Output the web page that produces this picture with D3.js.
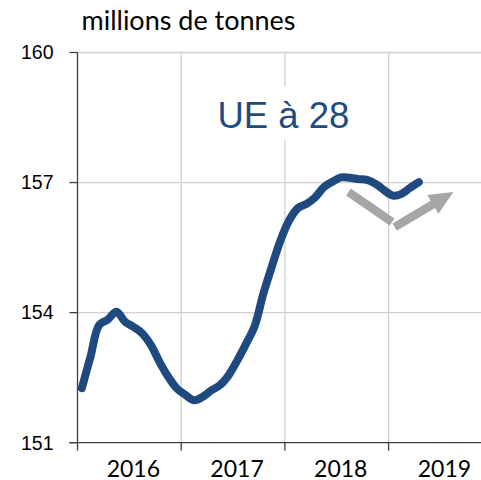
<!DOCTYPE html>
<html>
<head>
<meta charset="utf-8">
<script src="https://cdn.jsdelivr.net/npm/d3@7"></script>
<style>
  body { margin: 0; background: #fff; }
  svg { display: block; }
</style>
</head>
<body>
<svg width="481" height="480"></svg>
<script>
// data: monthly EU-28 production, Jan 2016 -> Apr 2019
let years = ["2016", "2017", "2018", "2019"];
let values = [
    152.26, 152.98, 153.71, 153.84, 154.02, 153.79, 153.67, 153.52, 153.25, 152.86, 152.52, 152.25,
    152.10, 151.98, 152.06, 152.21, 152.33, 152.56, 152.90, 153.28, 153.69, 154.43, 155.07, 155.67,
    156.13, 156.41, 156.51, 156.66, 156.89, 157.02, 157.12, 157.11, 157.08, 157.06, 156.97, 156.82,
    156.70, 156.74, 156.88, 157.01
];
let yTicks = [151, 154, 157, 160];
// trend arrow, as [month index, value]
let trendDown = [[30.85, 156.78], [35.9, 156.09]];
let trendUp = [[36.2, 155.97], [43.0, 156.78]];

let svg = d3.select("svg");

let plotLeft = 77.5, plotRight = 492.3, plotTop = 52.5, plotBottom = 442.7;

let months = d3.range(48);
let x = d3.scaleBand().domain(months).range([plotLeft, plotRight]);
let y = d3.scaleLinear().domain([151, 160]).range([plotBottom, plotTop]);
let xm = function (m) { return x(0) + (m + 0.5) * x.step(); };

// grid
svg.append("g")
    .selectAll("line")
    .data(yTicks.slice(1))
    .enter().append("line")
    .attr("x1", plotLeft).attr("x2", 481)
    .attr("y1", d => y(d)).attr("y2", d => y(d))
    .attr("stroke", "#d0d0d0").attr("stroke-width", 1.3);

svg.append("g")
    .selectAll("line")
    .data([12, 24, 36])
    .enter().append("line")
    .attr("x1", d => x(d)).attr("x2", d => x(d))
    .attr("y1", plotTop).attr("y2", plotBottom)
    .attr("stroke", "#d0d0d0").attr("stroke-width", 1.3);

// axes
let axisColor = "#404040";
svg.append("line")
    .attr("x1", plotLeft).attr("x2", plotLeft)
    .attr("y1", plotTop).attr("y2", plotBottom)
    .attr("stroke", axisColor).attr("stroke-width", 1.3);
svg.append("line")
    .attr("x1", plotLeft - 8).attr("x2", 481)
    .attr("y1", plotBottom).attr("y2", plotBottom)
    .attr("stroke", axisColor).attr("stroke-width", 1.3);

svg.append("g")
    .selectAll("line")
    .data(yTicks)
    .enter().append("line")
    .attr("x1", plotLeft - 8).attr("x2", plotLeft)
    .attr("y1", d => y(d)).attr("y2", d => y(d))
    .attr("stroke", axisColor).attr("stroke-width", 1.3);

svg.append("g")
    .selectAll("line")
    .data([0, 12, 24, 36])
    .enter().append("line")
    .attr("x1", d => x(d)).attr("x2", d => x(d))
    .attr("y1", plotBottom).attr("y2", plotBottom + 8)
    .attr("stroke", axisColor).attr("stroke-width", 1.3);

svg.append("g")
    .selectAll("text")
    .data(yTicks)
    .enter().append("text")
    .attr("x", 53.5)
    .attr("y", d => y(d))
    .attr("dy", "0.35em")
    .attr("text-anchor", "end")
    .attr("font-family", "Liberation Sans, Arial, sans-serif")
    .attr("font-size", 19.5)
    .attr("fill", "#000")
    .text(d => d);

svg.append("g")
    .selectAll("text")
    .data(years)
    .enter().append("text")
    .attr("x", (d, i) => x(i * 12) + x.step() * 6 + 4)
    .attr("y", 476.5)
    .attr("text-anchor", "middle")
    .attr("font-family", "Lato, Carlito, sans-serif")
    .attr("font-size", 23)
    .attr("fill", "#000")
    .text(d => d);

svg.append("text")
    .attr("x", 81.5)
    .attr("y", 30)
    .attr("font-family", "Lato, Carlito, sans-serif")
    .attr("font-size", 26)
    .attr("textLength", 214)
    .attr("lengthAdjust", "spacingAndGlyphs")
    .attr("fill", "#000")
    .text("millions de tonnes");

// label box
svg.append("rect")
    .attr("x", 212).attr("y", 86)
    .attr("width", 145).attr("height", 54)
    .attr("fill", "#fff");
svg.append("text")
    .attr("x", x(24) - 1.5)
    .attr("y", 128)
    .attr("text-anchor", "middle")
    .attr("font-family", "Liberation Sans, Arial, sans-serif")
    .attr("font-size", 36.5)
    .attr("fill", "#1f4b80")
    .text("UE à 28");

// series
let line = d3.line()
    .x((d, i) => xm(i))
    .y(d => y(d))
    .curve(d3.curveCatmullRom.alpha(0.5));

svg.append("path")
    .datum(values)
    .attr("d", line)
    .attr("fill", "none")
    .attr("stroke", "#1f4a7f")
    .attr("stroke-width", 8)
    .attr("stroke-linecap", "round")
    .attr("stroke-linejoin", "round");

// trend arrows
let grey = "#a6a6a6";
svg.append("line")
    .attr("x1", xm(trendDown[0][0])).attr("y1", y(trendDown[0][1]))
    .attr("x2", xm(trendDown[1][0])).attr("y2", y(trendDown[1][1]))
    .attr("stroke", grey).attr("stroke-width", 8.5);

let ax0 = xm(trendUp[0][0]), ay0 = y(trendUp[0][1]);
let ax1 = xm(trendUp[1][0]), ay1 = y(trendUp[1][1]);
let len = Math.hypot(ax1 - ax0, ay1 - ay0);
let ux = (ax1 - ax0) / len, uy = (ay1 - ay0) / len;
let headLen = 24, headHalf = 11;
let bx = ax1 - ux * headLen, by = ay1 - uy * headLen;

svg.append("line")
    .attr("x1", ax0).attr("y1", ay0)
    .attr("x2", bx + ux * 2).attr("y2", by + uy * 2)
    .attr("stroke", grey).attr("stroke-width", 8.5);
svg.append("path")
    .attr("d", "M" + ax1 + "," + ay1 +
        "L" + (bx - uy * headHalf) + "," + (by + ux * headHalf) +
        "L" + (bx + uy * headHalf) + "," + (by - ux * headHalf) + "Z")
    .attr("fill", grey);
</script>
</body>
</html>
